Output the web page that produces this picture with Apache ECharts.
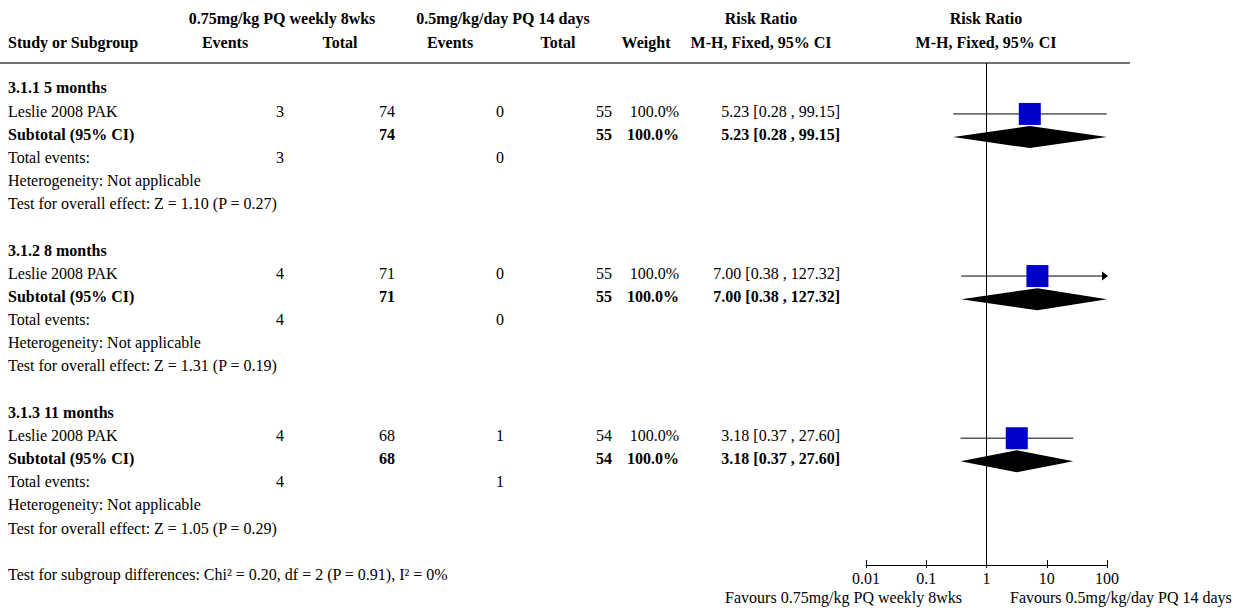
<!DOCTYPE html>
<html><head><meta charset="utf-8">
<script src="https://cdn.jsdelivr.net/npm/echarts@6/dist/echarts.min.js"></script>
<style>html,body{margin:0;padding:0;background:#fff}#c{width:1240px;height:608px}</style>
</head><body><div id="c"></div>
<script>
// ---- data ----
const subgroups = ['3.1.1 5 months', '3.1.2 8 months', '3.1.3 11 months'];
const studies = ['Leslie 2008 PAK', 'Leslie 2008 PAK', 'Leslie 2008 PAK'];
const expEvents = [3, 4, 4];
const expTotal = [74, 71, 68];
const ctlEvents = [0, 0, 1];
const ctlTotal = [55, 55, 54];
const weights = [100.0, 100.0, 100.0];
const rr = [5.23, 7.00, 3.18];
const ciLow = [0.28, 0.38, 0.37];
const ciHigh = [99.15, 127.32, 27.60];
const zValues = [1.10, 1.31, 1.05];
const pValues = [0.27, 0.19, 0.29];
const axisTicks = [0.01, 0.1, 1, 10, 100];
const subgroupDiff = { chi2: 0.20, df: 2, p: 0.91, i2: 0 };
const expLabel = '0.75mg/kg PQ weekly 8wks';
const ctlLabel = '0.5mg/kg/day PQ 14 days';

// ---- layout ----
const FONT = '"Liberation Serif", "Times New Roman", serif';
const ROWS_PER_GROUP = 7;
const AX_MIN = axisTicks[0], AX_MAX = axisTicks[axisTicks.length - 1];
const shapeOff = 0.12;

const chart = echarts.init(document.getElementById('c'), null, { renderer: 'svg' });

const studyData = rr.map((v, i) => [v, ciLow[i], ciHigh[i], i * ROWS_PER_GROUP + 1 + shapeOff]);
const totalData = rr.map((v, i) => [v, ciLow[i], ciHigh[i], i * ROWS_PER_GROUP + 2 + shapeOff]);
const tickFmt = v => { const t = axisTicks.find(a => Math.abs(Math.log10(a) - Math.log10(v)) < 1e-6); return t === undefined ? '' : String(t); };

chart.setOption({
  animation: false,
  grid: { left: 866, width: 241, top: 63, height: 502, containLabel: false },
  xAxis: [{
    type: 'log', logBase: 10, min: AX_MIN, max: AX_MAX, position: 'bottom',
    axisLine: { show: true, onZero: false, lineStyle: { color: '#000', width: 1 } },
    axisTick: { show: true, inside: true, length: 5, lineStyle: { color: '#000', width: 1 } },
    minorTick: { show: false },
    splitLine: { show: false },
    axisLabel: { color: '#000', fontFamily: FONT, fontSize: 16, margin: 5, formatter: tickFmt }
  }, {
    type: 'log', logBase: 10, min: AX_MIN, max: AX_MAX, position: 'bottom', offset: 0,
    axisLine: { show: false, onZero: false },
    axisTick: { show: true, inside: false, length: 3, lineStyle: { color: '#000', width: 1 } },
    minorTick: { show: false },
    splitLine: { show: false },
    axisLabel: { show: false }
  }],
  yAxis: { type: 'value', min: -1.0794, max: 20.596, inverse: true, show: false },
  series: [
    {
      type: 'custom', silent: true, xAxisIndex: 0,
      data: studyData,
      renderItem: (params, api) => {
        const y = api.coord([1, api.value(3)])[1];
        const xl = api.coord([Math.max(api.value(1), AX_MIN), 0])[0];
        const xh = api.coord([Math.min(api.value(2), AX_MAX), 0])[0];
        const xc = api.coord([api.value(0), 0])[0];
        const children = [
          { type: 'line', shape: { x1: xl, y1: y, x2: xh, y2: y }, style: { stroke: '#000', lineWidth: 1 } }
        ];
        if (api.value(2) > AX_MAX) {
          children.push({ type: 'polygon', shape: { points: [[xh + 1, y], [xh - 5, y - 4.5], [xh - 5, y + 4.5]] }, style: { fill: '#000' } });
        }
        const s = 22;
        children.push({ type: 'rect', shape: { x: xc - s / 2, y: y - s / 2, width: s, height: s }, style: { fill: '#0000CC' } });
        return { type: 'group', children };
      },
      markLine: {
        silent: true, symbol: ['none', 'none'], label: { show: false },
        lineStyle: { color: '#000', width: 1, type: 'solid' },
        data: [{ xAxis: 1 }]
      }
    },
    {
      type: 'custom', silent: true, xAxisIndex: 0,
      data: totalData,
      renderItem: (params, api) => {
        const y = api.coord([1, api.value(3)])[1];
        const xl = api.coord([Math.max(api.value(1), AX_MIN), 0])[0];
        const xh = api.coord([Math.min(api.value(2), AX_MAX), 0])[0];
        const xc = api.coord([api.value(0), 0])[0];
        const h = 11;
        return { type: 'polygon', shape: { points: [[xl, y], [xc, y - h], [xh, y], [xc, y + h]] }, style: { fill: '#000' } };
      }
    }
  ]
});

// ---- text table ----
const rowY = r => chart.convertToPixel({ yAxisIndex: 0 }, r);
function txt(x, y, s, align, bold) {
  return {
    type: 'text', x: x, y: y, silent: true,
    style: { text: s, textAlign: align, align: align, textVerticalAlign: 'middle', verticalAlign: 'middle',
      font: (bold ? 'bold ' : '') + '16px ' + FONT, fill: '#000' }
  };
}
const COL = { study: 8, ev1: 284, tot1: 395, ev2: 504, tot2: 612, w: 679, ci: 840 };
const els = [];
// header
els.push(txt(282, 18, expLabel, 'center', true));
els.push(txt(503, 18, ctlLabel, 'center', true));
els.push(txt(761, 18, 'Risk Ratio', 'center', true));
els.push(txt(986, 18, 'Risk Ratio', 'center', true));
els.push(txt(COL.study, 42, 'Study or Subgroup', 'left', true));
els.push(txt(225, 42, 'Events', 'center', true));
els.push(txt(340, 42, 'Total', 'center', true));
els.push(txt(450, 42, 'Events', 'center', true));
els.push(txt(558, 42, 'Total', 'center', true));
els.push(txt(646, 42, 'Weight', 'center', true));
els.push(txt(761, 42, 'M-H, Fixed, 95% CI', 'center', true));
els.push(txt(986, 42, 'M-H, Fixed, 95% CI', 'center', true));
els.push({ type: 'line', silent: true, shape: { x1: 0, y1: 63, x2: 1130, y2: 63 }, style: { stroke: '#444', lineWidth: 1.5 } });

const ciTxt = i => rr[i].toFixed(2) + ' [' + ciLow[i].toFixed(2) + ' , ' + ciHigh[i].toFixed(2) + ']';
subgroups.forEach((g, i) => {
  const b = i * ROWS_PER_GROUP;
  let y = rowY(b);
  els.push(txt(COL.study, y, g, 'left', true));
  y = rowY(b + 1);
  els.push(txt(COL.study, y, studies[i], 'left', false));
  els.push(txt(COL.ev1, y, String(expEvents[i]), 'right', false));
  els.push(txt(COL.tot1, y, String(expTotal[i]), 'right', false));
  els.push(txt(COL.ev2, y, String(ctlEvents[i]), 'right', false));
  els.push(txt(COL.tot2, y, String(ctlTotal[i]), 'right', false));
  els.push(txt(COL.w, y, weights[i].toFixed(1) + '%', 'right', false));
  els.push(txt(COL.ci, y, ciTxt(i), 'right', false));
  y = rowY(b + 2);
  els.push(txt(COL.study, y, 'Subtotal (95% CI)', 'left', true));
  els.push(txt(COL.tot1, y, String(expTotal[i]), 'right', true));
  els.push(txt(COL.tot2, y, String(ctlTotal[i]), 'right', true));
  els.push(txt(COL.w, y, weights[i].toFixed(1) + '%', 'right', true));
  els.push(txt(COL.ci, y, ciTxt(i), 'right', true));
  y = rowY(b + 3);
  els.push(txt(COL.study, y, 'Total events:', 'left', false));
  els.push(txt(COL.ev1, y, String(expEvents[i]), 'right', false));
  els.push(txt(COL.ev2, y, String(ctlEvents[i]), 'right', false));
  els.push(txt(COL.study, rowY(b + 4), 'Heterogeneity: Not applicable', 'left', false));
  els.push(txt(COL.study, rowY(b + 5), 'Test for overall effect: Z = ' + zValues[i].toFixed(2) + ' (P = ' + pValues[i].toFixed(2) + ')', 'left', false));
});
els.push(txt(COL.study, rowY(3 * ROWS_PER_GROUP),
  'Test for subgroup differences: Chi\u00B2 = ' + subgroupDiff.chi2.toFixed(2) + ', df = ' + subgroupDiff.df +
  ' (P = ' + subgroupDiff.p.toFixed(2) + '), I\u00B2 = ' + subgroupDiff.i2 + '%', 'left', false));
els.push(txt(962, 597, 'Favours ' + expLabel, 'right', false));
els.push(txt(1010, 597, 'Favours ' + ctlLabel, 'left', false));

chart.setOption({ graphic: { elements: els } });
</script>
</body></html>
